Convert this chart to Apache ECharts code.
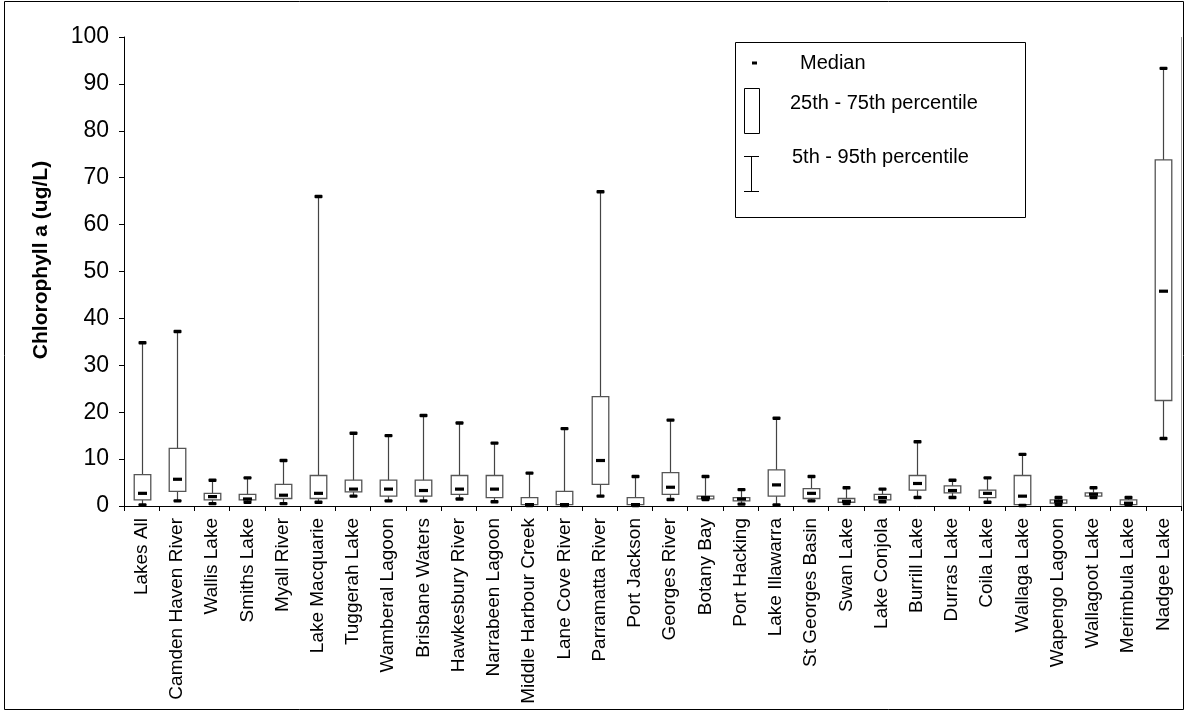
<!DOCTYPE html>
<html>
<head>
<meta charset="utf-8">
<script src="https://cdn.jsdelivr.net/npm/echarts@6/dist/echarts.min.js"></script>
<style>
html,body{margin:0;padding:0;background:#fff;}
#chart{width:1193px;height:718px;}
</style>
</head>
<body>
<div id="chart"></div>
<script>
const categories = ['Lakes All','Camden Haven River','Wallis Lake','Smiths Lake','Myall River','Lake Macquarie','Tuggerah Lake','Wamberal Lagoon','Brisbane Waters','Hawkesbury River','Narrabeen Lagoon','Middle Harbour Creek','Lane Cove River','Parramatta River','Port Jackson','Georges River','Botany Bay','Port Hacking','Lake Illawarra','St Georges Basin','Swan Lake','Lake Conjola','Burrill Lake','Durras Lake','Coila Lake','Wallaga Lake','Wapengo Lagoon','Wallagoot Lake','Merimbula Lake','Nadgee Lake'];
const p5     = [0.2,1.1,0.5,0.8,0.5,0.8,2.1,1.1,1.1,1.5,0.9,0.1,0.1,2.1,0.1,1.4,1.4,0.4,0.2,1.1,0.5,0.9,1.8,1.8,0.8,0.1,0.35,1.8,0.2,14.4];
const p25    = [1.3,3.1,1.3,1.3,1.6,1.6,3.0,2.1,2.1,2.5,1.8,0.3,0.3,4.6,0.3,2.5,1.5,1.1,2.1,1.6,0.8,1.3,3.4,2.8,1.8,0.3,0.6,2.1,0.3,22.5];
const median = [2.7,5.7,2.0,1.5,2.3,2.7,3.6,3.6,3.3,3.6,3.6,0.3,0.3,9.7,0.3,4.0,1.8,1.5,4.5,2.7,1.0,1.8,4.8,3.3,2.7,2.1,1.0,2.5,0.6,45.8];
const p75    = [6.7,12.3,2.7,2.5,4.6,6.5,5.5,5.5,5.5,6.5,6.5,1.8,3.1,23.3,1.8,7.1,2.1,1.8,7.7,3.7,1.6,2.5,6.5,4.3,3.4,6.5,1.3,2.8,1.3,73.8];
const p95    = [34.8,37.2,5.5,6.0,9.7,66.0,15.5,15.0,19.3,17.7,13.4,7.0,16.5,67.0,6.3,18.3,6.3,3.5,18.7,6.3,3.9,3.6,13.7,5.5,6.0,11.0,1.8,3.9,1.8,93.3];
const yTicks = {min:0, max:100, interval:10};
const yTitle = 'Chlorophyll a (ug/L)';
const legendLabels = ['Median','25th - 75th percentile','5th - 95th percentile'];

const FONT = "'Liberation Sans', Arial, sans-serif";
const data = categories.map((c,i)=>[i,p5[i],p25[i],median[i],p75[i],p95[i]]);

const chart = echarts.init(document.getElementById('chart'), null, {renderer:'canvas'});
const option = {
  animation:false,
  backgroundColor:'#fff',
  grid:{left:124, right:12, top:37, bottom:212},
  xAxis:{
    type:'category', data:categories, boundaryGap:true,
    axisLine:{lineStyle:{color:'#000',width:1}},
    axisTick:{show:true, length:5, lineStyle:{color:'#000'}},
    axisLabel:{rotate:90, interval:0, margin:12, color:'#000', fontSize:19, fontFamily:FONT}
  },
  yAxis:{
    type:'value', min:yTicks.min, max:yTicks.max, interval:yTicks.interval,
    axisLine:{show:true, lineStyle:{color:'#000',width:1}},
    axisTick:{show:true, length:5, lineStyle:{color:'#000'}},
    splitLine:{show:false},
    axisLabel:{color:'#000', fontSize:23, fontFamily:FONT, margin:15}
  },
  series:[{
    type:'custom',
    data:data,
    encode:{x:0, y:[1,2,3,4,5]},
    renderItem:function(params, api){
      const x = api.value(0);
      const lo = api.coord([x, api.value(1)]);
      const q1 = api.coord([x, api.value(2)]);
      const md = api.coord([x, api.value(3)]);
      const q3 = api.coord([x, api.value(4)]);
      const hi = api.coord([x, api.value(5)]);
      const cw = api.size([1,0])[0];
      const bw = cw*0.47;
      const cx = Math.round(lo[0])+0.5;
      return {type:'group', children:[
        {type:'line', shape:{x1:cx,y1:lo[1],x2:cx,y2:hi[1]}, style:{stroke:'#444',lineWidth:1.2}},
        {type:'rect', shape:{x:cx-bw/2, y:q3[1], width:bw, height:q1[1]-q3[1]}, style:{fill:'#fff',stroke:'#555',lineWidth:1.3}},
        {type:'rect', shape:{x:cx-4, y:lo[1]-1.7, width:8, height:3.4, r:1}, style:{fill:'#000'}},
        {type:'rect', shape:{x:cx-4, y:hi[1]-1.7, width:8, height:3.4, r:1}, style:{fill:'#000'}},
        {type:'rect', shape:{x:cx-4.5, y:md[1]-1.6, width:9, height:3.2}, style:{fill:'#000'}}
      ]};
    }
  }],
  graphic:[
    {type:'rect', z:0, silent:true, shape:{x:4.5,y:1.5,width:1179,height:708}, style:{fill:'none',stroke:'#000',lineWidth:1}},
    {type:'line', silent:true, shape:{x1:1181.5,y1:37,x2:1181.5,y2:506}, style:{stroke:'#999',lineWidth:1}},
    {type:'text', silent:true, x:41, y:260, rotation:Math.PI/2,
      style:{text:yTitle, fill:'#000', font:"bold 21px "+FONT, align:'center', verticalAlign:'middle'}},
    {type:'group', z:100, silent:true, children:[
      {type:'rect', shape:{x:735.5,y:42.5,width:290,height:175}, style:{fill:'#fff',stroke:'#000',lineWidth:1}},
      {type:'rect', shape:{x:752,y:61.5,width:5,height:3}, style:{fill:'#000'}},
      {type:'rect', shape:{x:744.5,y:88.5,width:15,height:45}, style:{fill:'#fff',stroke:'#000',lineWidth:1}},
      {type:'line', shape:{x1:751.5,y1:156.5,x2:751.5,y2:191.5}, style:{stroke:'#000',lineWidth:1}},
      {type:'line', shape:{x1:744,y1:156.5,x2:759,y2:156.5}, style:{stroke:'#000',lineWidth:1}},
      {type:'line', shape:{x1:744,y1:191.5,x2:759,y2:191.5}, style:{stroke:'#000',lineWidth:1}},
      {type:'text', x:800, y:63, style:{text:legendLabels[0], fill:'#000', font:"20px "+FONT, verticalAlign:'middle'}},
      {type:'text', x:790, y:103, style:{text:legendLabels[1], fill:'#000', font:"20px "+FONT, verticalAlign:'middle'}},
      {type:'text', x:792, y:157, style:{text:legendLabels[2], fill:'#000', font:"20px "+FONT, verticalAlign:'middle'}}
    ]}
  ]
};
chart.setOption(option);
</script>
</body>
</html>
